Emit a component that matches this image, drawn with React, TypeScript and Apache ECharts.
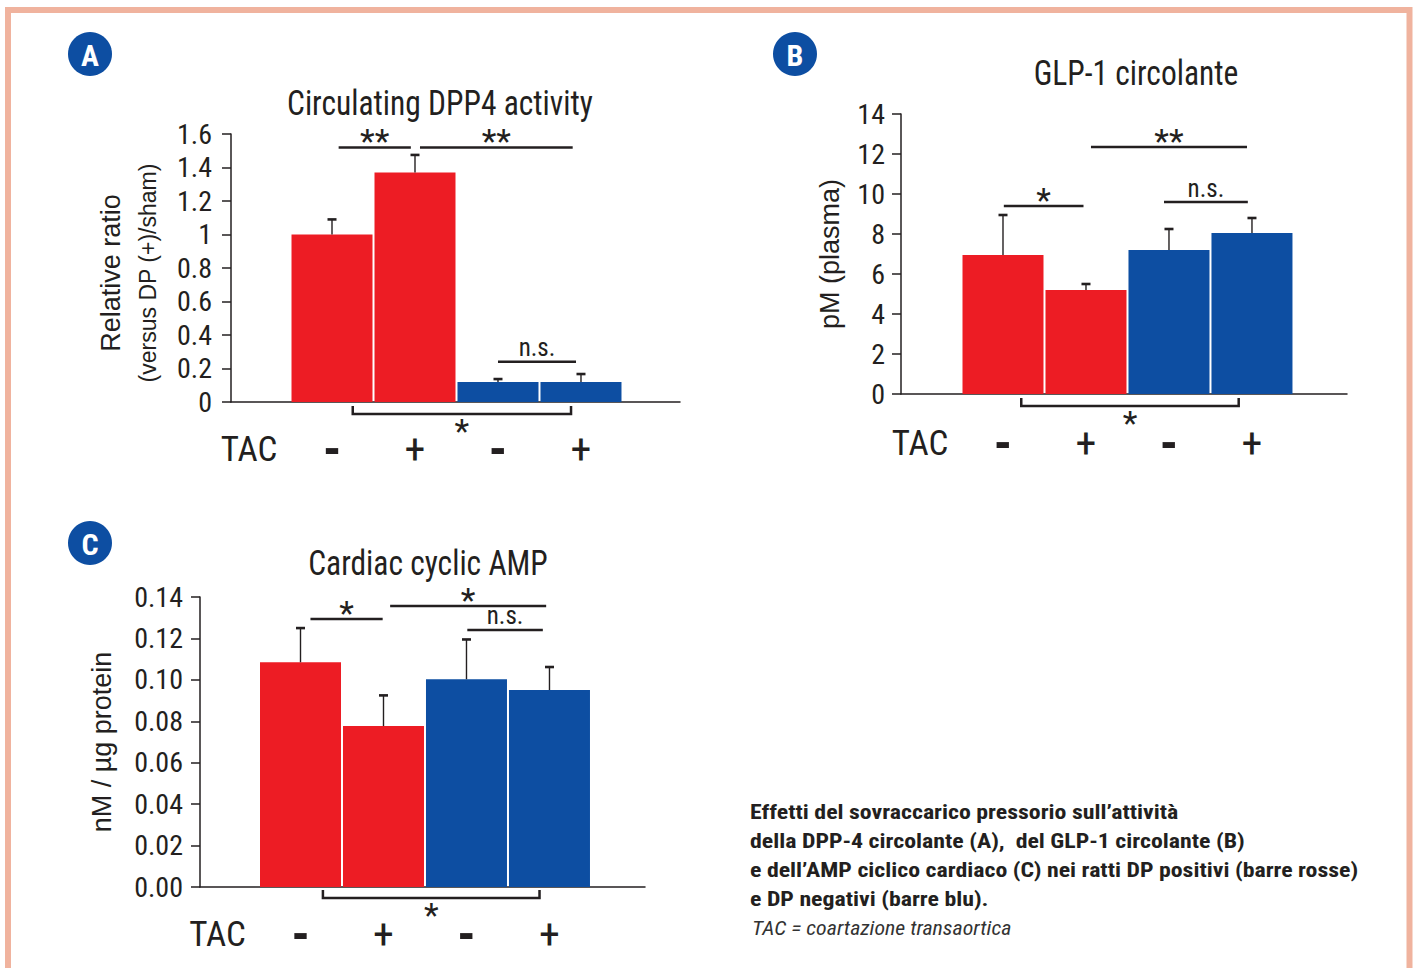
import React, { useEffect, useRef } from "react";
import * as echarts from "echarts";

// ---------- data ----------
const tacStatus = ["-", "+", "-", "+"];
const dpGroup = ["DP+", "DP+", "DP-", "DP-"];
const tacRowLabel = "TAC";

// Panel A: Circulating DPP4 activity
const dppTitle = "Circulating DPP4 activity";
const dppMean = [1.0, 1.37, 0.12, 0.12];
const dppUpper = [1.09, 1.475, 0.137, 0.167];
const dppSigFrom = [0.08, 1.06, 2.0, 0.25];
const dppSigTo = [0.95, 2.9, 2.94, 2.88];
const dppSigLevel = [1.52, 1.52, 0.24, -0.072];
const dppSigLabel = ["**", "**", "n.s.", "*"];
const dppSigKind = ["line", "line", "line", "bracket"];

// Panel B: GLP-1 circolante
const glpTitle = "GLP-1 circolante";
const glpMean = [6.95, 5.2, 7.2, 8.05];
const glpUpper = [8.95, 5.5, 8.25, 8.8];
const glpSigFrom = [0.01, 1.06, 1.94, 0.22];
const glpSigTo = [0.97, 2.94, 2.95, 2.84];
const glpSigLevel = [9.4, 12.35, 9.6, -0.6];
const glpSigLabel = ["*", "**", "n.s.", "*"];
const glpSigKind = ["line", "line", "line", "bracket"];

// Panel C: Cardiac cyclic AMP
const campTitle = "Cardiac cyclic AMP";
const campMean = [0.1085, 0.0777, 0.1003, 0.0951];
const campUpper = [0.125, 0.0925, 0.1195, 0.1062];
const campSigFrom = [0.12, 1.08, 2.01, 0.27];
const campSigTo = [0.99, 2.96, 2.92, 2.88];
const campSigLevel = [0.1294, 0.1357, 0.1241, -0.0053];
const campSigLabel = ["*", "*", "n.s.", "*"];
const campSigKind = ["line", "line", "line", "bracket"];

const captionLines = [
  "Effetti del sovraccarico pressorio sull\u2019attivit\u00e0",
  "della DPP-4 circolante (A),  del GLP-1 circolante (B)",
  "e dell\u2019AMP ciclico cardiaco (C) nei ratti DP positivi (barre rosse)",
  "e DP negativi (barre blu).",
];
const captionNote = "TAC = coartazione transaortica";

// ---------- styles ----------
const INK = "#231f20";
const RED = "#ed1c24";
const BLUE = "#0d4ea2";
const FRAME = "#f0b39e";
const groupColor: Record<string, string> = { "DP+": RED, "DP-": BLUE };
const NARROW =
  "'Liberation Sans Narrow', 'Roboto Condensed', 'DejaVu Sans Condensed', 'Arial Narrow', sans-serif";
const SANS = "'Liberation Sans', Arial, Helvetica, sans-serif";

type PanelCfg = {
  grid: { left: number; top: number; width: number; height: number };
  xMin: number;
  xMax: number;
  yMax: number;
  yInterval: number;
  yFmt?: (v: number) => string;
  yName: string;
  yNameGap: number;
  yNameRich: any;
  yNamePadding?: number[];
  labelMarginY: number;
  labelMarginX: number;
  mean: number[];
  upper: number[];
  sigFrom: number[];
  sigTo: number[];
  sigLevel: number[];
  sigLabel: string[];
  sigKind: string[];
};

function buildPanel(gi: number, c: PanelCfg) {
  const grid = { ...c.grid, outerBoundsMode: "none", containLabel: false };
  const xAxis = {
    gridIndex: gi,
    type: "value",
    min: c.xMin,
    max: c.xMax,
    splitLine: { show: false },
    axisTick: { show: false },
    axisLine: { show: true, onZero: false, lineStyle: { color: INK, width: 1.5 } },
    axisLabel: {
      customValues: [-1, 0, 1, 2, 3],
      margin: c.labelMarginX,
      formatter: (v: number) => {
        if (v < -0.5) return "{t|" + tacRowLabel + "}";
        const s = tacStatus[Math.round(v)];
        return s === "+" ? "{p|+}" : "{m|-}";
      },
      rich: {
        t: { fontSize: 35, fontFamily: NARROW, color: INK, lineHeight: 40 },
        p: { fontSize: 42, fontFamily: NARROW, color: INK, lineHeight: 40 },
        m: { fontSize: 52, fontFamily: NARROW, color: INK, lineHeight: 40, fontWeight: "bold" },
      },
    },
  };
  const yAxis = {
    gridIndex: gi,
    type: "value",
    min: 0,
    max: c.yMax,
    interval: c.yInterval,
    splitLine: { show: false },
    axisLine: { show: true, onZero: false, lineStyle: { color: INK, width: 1.5 } },
    axisTick: { show: true, length: 9, lineStyle: { color: INK, width: 1.5 } },
    axisLabel: {
      margin: c.labelMarginY,
      color: INK,
      fontSize: 28,
      fontFamily: NARROW,
      formatter: c.yFmt,
    },
    name: c.yName,
    nameLocation: "middle",
    nameGap: c.yNameGap,
    nameMoveOverlap: false,
    nameTextStyle: {
      color: INK,
      fontFamily: SANS,
      rich: c.yNameRich,
      padding: c.yNamePadding || 0,
    },
  };
  const series: any[] = [
    {
      type: "bar",
      xAxisIndex: gi,
      yAxisIndex: gi,
      barWidth: 81,
      z: 2,
      data: c.mean.map((v, i) => ({
        value: [i, v],
        itemStyle: { color: groupColor[dpGroup[i]] },
      })),
    },
    {
      type: "custom",
      xAxisIndex: gi,
      yAxisIndex: gi,
      z: 3,
      clip: false,
      encode: { x: 0, y: [1, 2] },
      data: c.mean.map((v, i) => [i, v, c.upper[i]]),
      renderItem: (params: any, api: any) => {
        const x = api.value(0);
        const base = api.coord([x, api.value(1)]);
        const top = api.coord([x, api.value(2)]);
        return {
          type: "group",
          children: [
            {
              type: "line",
              shape: { x1: base[0], y1: base[1], x2: top[0], y2: top[1] },
              style: { stroke: INK, lineWidth: 1.4 },
            },
            {
              type: "line",
              shape: { x1: top[0] - 4.5, y1: top[1], x2: top[0] + 4.5, y2: top[1] },
              style: { stroke: INK, lineWidth: 2.6 },
            },
          ],
        };
      },
    },
    {
      type: "custom",
      xAxisIndex: gi,
      yAxisIndex: gi,
      z: 3,
      clip: false,
      encode: { x: [0, 1], y: 2 },
      data: c.sigFrom.map((f, i) => [f, c.sigTo[i], c.sigLevel[i]]),
      renderItem: (params: any, api: any) => {
        const i = params.dataIndex;
        const a = api.coord([api.value(0), api.value(2)]);
        const b = api.coord([api.value(1), api.value(2)]);
        const label = c.sigLabel[i];
        const bracket = c.sigKind[i] === "bracket";
        const ns = label === "n.s.";
        const cx = (a[0] + b[0]) / 2;
        const children: any[] = [];
        if (bracket) {
          children.push({
            type: "polyline",
            shape: {
              points: [
                [a[0], a[1] - 8],
                [a[0], a[1]],
                [b[0], b[1]],
                [b[0], b[1] - 8],
              ],
            },
            style: { stroke: INK, lineWidth: 2.5, fill: null },
          });
        } else {
          children.push({
            type: "line",
            shape: { x1: a[0], y1: a[1], x2: b[0], y2: b[1] },
            style: { stroke: INK, lineWidth: 2.5 },
          });
        }
        children.push({
          type: "text",
          style: {
            text: label,
            x: cx,
            y: bracket ? a[1] + 17 : ns ? a[1] - 14 : a[1] - 6,
            align: "center",
            verticalAlign: "middle",
            fill: INK,
            fontSize: ns ? 25 : 34,
            fontFamily: NARROW,
          },
        });
        return { type: "group", children };
      },
    },
  ];
  return { grid, xAxis, yAxis, series };
}

function badge(letter: string, cx: number, cy: number) {
  return [
    { type: "circle", shape: { cx, cy, r: 22 }, style: { fill: BLUE } },
    {
      type: "text",
      x: cx,
      y: cy + 1,
      style: {
        text: letter,
        fill: "#ffffff",
        fontSize: 30,
        fontWeight: "bold",
        fontFamily: NARROW,
        align: "center",
        verticalAlign: "middle",
      },
    },
  ];
}

function title(text: string, cx: number, cy: number) {
  return {
    type: "text",
    x: cx,
    y: cy,
    scaleX: 0.9,
    style: {
      text,
      fill: INK,
      fontSize: 35,
      fontFamily: NARROW,
      align: "center",
      verticalAlign: "middle",
    },
  };
}

export default function App() {
  const ref = useRef<HTMLDivElement>(null);
  useEffect(() => {
    if (!ref.current) return;
    const chart = echarts.init(ref.current, null, { renderer: "svg" });

    const pA = buildPanel(0, {
      grid: { left: 231, top: 134, width: 449, height: 268 },
      xMin: -1.217,
      xMax: 4.193,
      yMax: 1.6,
      yInterval: 0.2,
      yName: "{a|Relative ratio}\n{b|(versus DP (+)/sham)}",
      yNameGap: 65,
      yNameRich: {
        a: { fontSize: 27, lineHeight: 37, fontFamily: SANS, color: INK },
        b: { fontSize: 23, lineHeight: 37, fontFamily: SANS, color: INK },
      },
      yNamePadding: [0, 10, 0, 0],
      labelMarginY: 19,
      labelMarginX: 27,
      mean: dppMean,
      upper: dppUpper,
      sigFrom: dppSigFrom,
      sigTo: dppSigTo,
      sigLevel: dppSigLevel,
      sigLabel: dppSigLabel,
      sigKind: dppSigKind,
    });
    const pB = buildPanel(1, {
      grid: { left: 901, top: 114, width: 446, height: 280 },
      xMin: -1.229,
      xMax: 4.145,
      yMax: 14,
      yInterval: 2,
      yName: "{a|pM (plasma)}",
      yNameGap: 56,
      yNameRich: { a: { fontSize: 27, lineHeight: 30, fontFamily: SANS, color: INK } },
      labelMarginY: 16,
      labelMarginX: 29,
      mean: glpMean,
      upper: glpUpper,
      sigFrom: glpSigFrom,
      sigTo: glpSigTo,
      sigLevel: glpSigLevel,
      sigLabel: glpSigLabel,
      sigKind: glpSigKind,
    });
    const pC = buildPanel(2, {
      grid: { left: 200, top: 597, width: 445, height: 290 },
      xMin: -1.211,
      xMax: 4.151,
      yMax: 0.14,
      yInterval: 0.02,
      yFmt: (v: number) => v.toFixed(2),
      yName: "{a|nM / \u00b5g protein}",
      yNameGap: 83,
      yNameRich: { a: { fontSize: 27, lineHeight: 30, fontFamily: SANS, color: INK } },
      labelMarginY: 17,
      labelMarginX: 27,
      mean: campMean,
      upper: campUpper,
      sigFrom: campSigFrom,
      sigTo: campSigTo,
      sigLevel: campSigLevel,
      sigLabel: campSigLabel,
      sigKind: campSigKind,
    });

    const option: any = {
      animation: false,
      backgroundColor: "#ffffff",
      textStyle: { fontFamily: NARROW },
      grid: [pA.grid, pB.grid, pC.grid],
      xAxis: [pA.xAxis, pB.xAxis, pC.xAxis],
      yAxis: [pA.yAxis, pB.yAxis, pC.yAxis],
      series: [...pA.series, ...pB.series, ...pC.series],
      graphic: {
        elements: [
          {
            type: "rect",
            shape: { x: 8, y: 10, width: 1401.5, height: 1000 },
            style: { fill: null, stroke: FRAME, lineWidth: 6 },
            silent: true,
          },
          ...badge("A", 90, 54),
          ...badge("B", 795, 54),
          ...badge("C", 90, 543),
          title(dppTitle, 440, 103),
          title(glpTitle, 1136, 73),
          title(campTitle, 428, 563),
          {
            type: "text",
            x: 750,
            y: 797.5,
            scaleX: 1.135,
            style: {
              text: captionLines.join("\n"),
              fill: INK,
              fontSize: 21,
              fontWeight: "bold",
              fontFamily: NARROW,
              lineHeight: 29,
              align: "left",
              verticalAlign: "top",
            },
          },
          {
            type: "text",
            x: 752,
            y: 928,
            scaleX: 1.04,
            style: {
              text: captionNote,
              fill: "#333333",
              fontSize: 21,
              fontStyle: "italic",
              fontFamily: NARROW,
              align: "left",
              verticalAlign: "middle",
            },
          },
        ],
      },
    };
    chart.setOption(option);
    return () => chart.dispose();
  }, []);
  return (
    <div
      ref={ref}
      style={{ position: "absolute", left: 0, top: 0, width: 1416, height: 968 }}
    />
  );
}
